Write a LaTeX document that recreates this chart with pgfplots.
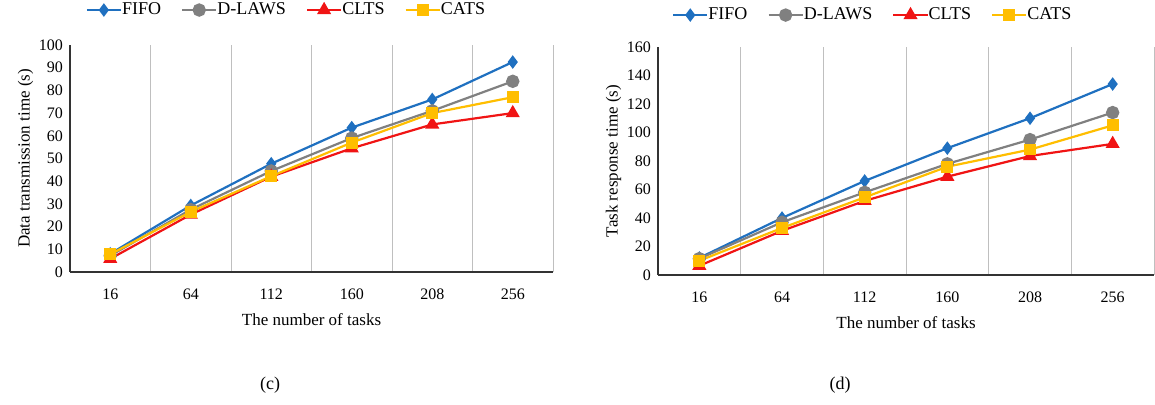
\documentclass[border=0pt]{standalone}
\usepackage{pgfplots}
\pgfplotsset{compat=1.18}
\usepackage{fontspec}
\setmainfont{Liberation Serif}
\definecolor{cfifo}{RGB}{31,112,192}
\definecolor{cdlaws}{RGB}{128,128,128}
\definecolor{cclts}{RGB}{240,20,20}
\definecolor{ccats}{RGB}{255,190,0}
\pgfplotsset{
  myax/.style={
    scale only axis,
    anchor=south west,
    xmin=0.5, xmax=6.5,
    ymin=0,
    axis x line=bottom, axis y line=left,
    axis line style={-, black!80, line width=0.8pt},
    xtick={1,...,6},
    xticklabels={16,64,112,160,208,256},
    minor xtick={1.5,2.5,3.5,4.5,5.5,6.5},
    xminorgrids=true,
    minor grid style={black!25, line width=0.5pt},
    major tick length=0pt, minor tick length=0pt,
    ticklabel style={font=\fontsize{8}{9}\selectfont},
    /pgf/number format/assume math mode=true,
    xticklabel style={yshift=-5pt},
    label style={font=\fontsize{8.5}{10}\selectfont},
    xlabel={The number of tasks},
    xlabel style={yshift=0pt},
    ylabel style={yshift=-4pt},
    legend columns=4,
    legend style={draw=none, fill=none, font=\fontsize{9}{10}\selectfont,
      /tikz/every odd column/.append style={column sep=-2pt},
      /tikz/every even column/.append style={column sep=8pt}},
    legend image code/.code={
      \draw[mark repeat=2,mark phase=2,##1] plot coordinates {(0cm,0cm) (0.3cm,0cm) (0.6cm,0cm)};
    },
  },
  pfifo/.style={cfifo, line width=1.1pt, mark=diamond*, mark size=2.5pt, mark options={solid}},
  pdlaws/.style={cdlaws, line width=1.1pt, mark=*, mark size=2.8pt},
  pclts/.style={cclts, line width=1.1pt, mark=triangle*, mark size=3pt},
  pcats/.style={ccats, line width=1.1pt, mark=square*, mark size=2.4pt},
}
\begin{document}
\begin{tikzpicture}
\path[use as bounding box] (0,0) rectangle (577.5pt,202.5pt);
\begin{axis}[myax,
  at={(35pt,66.5pt)}, width=241.5pt, height=113.5pt,
  ymax=100, ytick={0,10,...,100},
  ylabel={Data transmission time (s)},
  legend style={at={(0.45,1.154)}, anchor=center},
]
\addplot[pfifo] coordinates {(1,8) (2,29.3) (3,47.7) (4,63.6) (5,76) (6,92.5)};
\addplot[pdlaws] coordinates {(1,7.2) (2,27.5) (3,44.5) (4,59) (5,71) (6,84)};
\addplot[pclts] coordinates {(1,5.8) (2,25.3) (3,42) (4,54.5) (5,65) (6,70)};
\addplot[pcats] coordinates {(1,7.8) (2,26.5) (3,42.2) (4,57) (5,70) (6,77)};
\legend{FIFO,D-LAWS,CLTS,CATS}
\end{axis}
\begin{axis}[myax,
  at={(329pt,65pt)}, width=248pt, height=114pt,
  ymax=160, ytick={0,20,...,160},
  ylabel={Task response time (s)},
  legend style={at={(0.435,1.14)}, anchor=center},
]
\addplot[pfifo] coordinates {(1,12) (2,40) (3,66) (4,89) (5,110) (6,134)};
\addplot[pdlaws] coordinates {(1,11.5) (2,37) (3,58) (4,78) (5,95) (6,114)};
\addplot[pclts] coordinates {(1,6.5) (2,31) (3,52) (4,69) (5,83.5) (6,92)};
\addplot[pcats] coordinates {(1,10) (2,33) (3,54.5) (4,76) (5,88) (6,105)};
\legend{FIFO,D-LAWS,CLTS,CATS}
\end{axis}
\node[font=\fontsize{9}{10}\selectfont] at (135pt,10pt) {(c)};
\node[font=\fontsize{9}{10}\selectfont] at (420pt,10pt) {(d)};
\end{tikzpicture}
\end{document}
